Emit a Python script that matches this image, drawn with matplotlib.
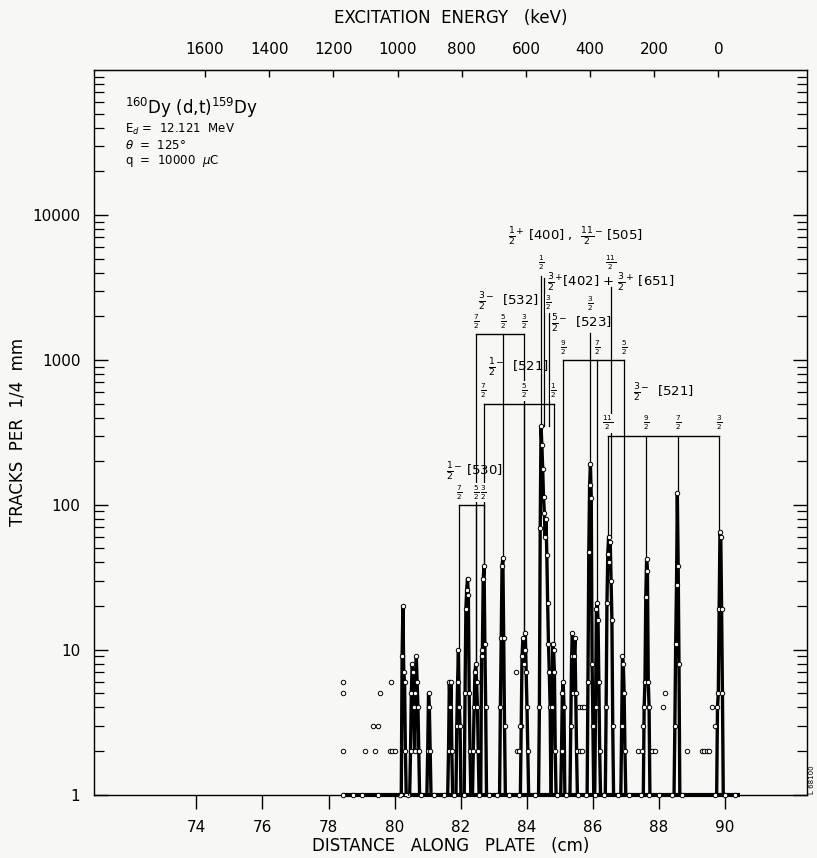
import numpy as np
import matplotlib
matplotlib.use("Agg")
import matplotlib.pyplot as plt
from matplotlib.ticker import FixedLocator, FixedFormatter, LogLocator, NullFormatter

plt.rcParams['font.family'] = ['DejaVu Sans']
plt.rcParams['mathtext.fontset'] = 'dejavusans'

# --- data (cm along plate, tracks per 1/4 mm channel) ---
channel = 0.025  # 1/4 mm
peak_start = [80.20, 80.48, 81.00, 81.63, 81.88, 82.13, 82.38, 82.63, 83.20,
              83.83, 84.38, 84.76, 85.05, 85.33, 85.85, 86.08, 86.40, 86.87,
              87.55, 88.48, 89.77]
peak_counts = [
    [1, 9, 20, 7, 6, 2, 1],
    [2, 5, 8, 7, 4, 2, 5, 9, 6, 4, 2],
    [2, 5, 4, 2],
    [2, 6, 4, 6, 2],
    [3, 6, 10, 4, 3],
    [5, 19, 26, 31, 24, 5, 2],
    [2, 4, 7, 8, 6, 4, 2],
    [9, 10, 31, 38, 11, 4],
    [4, 12, 38, 43, 12, 3],
    [3, 9, 12, 8, 10, 13, 7, 4, 2],
    [4, 69, 350, 258, 178, 113, 88, 60, 80, 45, 21, 11, 7, 4],
    [4, 11, 10, 7, 2],
    [2, 5, 6, 4],
    [3, 9, 13, 5, 9, 12, 5, 2],
    [6, 47, 137, 190, 112, 8, 3],
    [4, 19, 21, 16, 6, 2],
    [4, 21, 46, 60, 40, 55, 30, 16, 3],
    [3, 9, 8, 5, 2],
    [4, 6, 23, 42, 35, 6, 4],
    [3, 11, 28, 120, 38, 8],
    [4, 5, 19, 65, 60, 19, 5],
]
# isolated channels not joined by a line
single_x = [78.45, 78.45, 78.45, 79.10, 79.41, 79.34, 79.51, 79.56, 79.89, 79.86,
            79.93, 80.00, 83.67, 83.70, 83.75, 83.78, 85.59, 85.66, 85.74, 85.61,
            85.68, 87.36, 87.48, 87.51, 87.78, 87.88, 88.13, 88.18, 88.84, 89.29,
            89.37, 89.44, 89.52, 89.60, 89.68]
single_y = [6, 5, 2, 2, 2, 3, 3, 5, 6, 2,
            2, 2, 7, 2, 2, 3, 4, 4, 4, 2,
            2, 2, 2, 3, 2, 2, 4, 5, 2, 2,
            2, 2, 2, 4, 3]
# zero / one-count channels sitting on the baseline
base_x = [78.45, 78.75, 79.00, 79.50, 80.15, 80.40, 80.80, 81.20, 81.50, 81.80,
          82.10, 82.55, 82.85, 83.10, 83.45, 83.75, 84.25, 84.90, 85.20, 85.55,
          85.80, 86.05, 86.35, 86.75, 87.10, 87.45, 87.70, 88.00, 88.40, 88.70,
          89.70, 90.00, 90.30]
plate_range = [78.45, 90.45]

# top energy axis
top_kev = [1600, 1400, 1200, 1000, 800, 600, 400, 200, 0]
kev_per_cm = 102.96
zero_kev_cm = 89.80

y_ticks = [1, 10, 100, 1000, 10000]
y_labels = ['1', '10', '100', '1000', '10000']
x_ticks = [74, 76, 78, 80, 82, 84, 86, 88, 90]

bg = '#f7f7f5'

# --- figure ---
fig = plt.figure(figsize=(8.17, 8.58), dpi=100)
fig.patch.set_facecolor(bg)
ax = fig.add_axes([94.3 / 817, 1 - 794.7 / 858, (806.7 - 94.3) / 817, (794.7 - 70) / 858])
ax.set_facecolor(bg)
ax.set_yscale('log')
ax.set_xlim(70.91, 92.47)
ax.set_ylim(1, 1e5)

# baseline of the plate
ax.plot(plate_range, [1, 1], color='k', lw=3, solid_capstyle='butt', clip_on=False, zorder=3)
ax.plot(base_x, np.ones(len(base_x)), 'o', ms=3.2, mfc='white', mec='k', mew=0.7,
        clip_on=False, zorder=4)

peak_tops = []
for x0, counts in zip(peak_start, peak_counts):
    xs = x0 + channel * np.arange(len(counts))
    xs = np.concatenate([[xs[0] - channel], xs, [xs[-1] + channel]])
    ys = np.concatenate([[1], counts, [1]])
    ax.plot(xs, ys, color='k', lw=2.4, zorder=3, clip_on=False)
    ax.plot(xs[1:-1], ys[1:-1], 'o', ms=3.2, mfc='white', mec='k', mew=0.7, zorder=4)
    peak_tops.append((xs[0], xs[-1], max(counts)))

ax.plot(single_x, single_y, 'o', ms=3.2, mfc='white', mec='k', mew=0.7, zorder=4)


def top_at(x):
    for a, b, t in peak_tops:
        if a <= x <= b:
            return t
    return 1


frac_kw = dict(ha='center', va='center', fontsize=7.5,
               bbox=dict(facecolor=bg, edgecolor='none', pad=0.2))
lab_size = 9.5


def band(bar, members, label, label_x, label_y):
    xs = [m[0] for m in members]
    ax.plot([min(xs), max(xs)], [bar, bar], color='k', lw=1.0, zorder=2)
    for x, num in members:
        ax.plot([x, x], [top_at(x), bar], color='k', lw=0.9, zorder=2)
        ax.text(x, bar * 1.22, r'$\frac{%s}{2}$' % num, zorder=5, **frac_kw)
    ax.text(label_x, label_y, label, ha='left', va='center', fontsize=lab_size)


band(100, [(81.95, '7'), (82.46, '5'), (82.69, '3')],
     r'$\frac{1}{2}^{-}$ [530]', 81.55, 168)
band(1500, [(82.46, '7'), (83.28, '5'), (83.92, '3')],
     r'$\frac{3}{2}^{-}$  [532]', 82.52, 2500)
band(500, [(82.69, '7'), (83.92, '5'), (84.81, '1')],
     r'$\frac{1}{2}^{-}$  [521]', 82.83, 880)
band(1000, [(85.10, '9'), (86.12, '7'), (86.95, '5')],
     r'$\frac{5}{2}^{-}$  [523]', 84.73, 1780)
band(300, [(86.45, '11'), (87.62, '9'), (88.57, '7'), (89.83, '3')],
     r'$\frac{3}{2}^{-}$  [521]', 87.21, 590)

# single levels
for x, top, num, ly in [(84.44, 3800, '1', 4650), (84.66, 2100, '3', 2460),
                        (85.92, 1525, '3', 2450), (86.55, 3170, '11', 4650)]:
    ax.plot([x, x], [top_at(x), top], color='k', lw=0.9, zorder=2)
    ax.text(x, ly, r'$\frac{%s}{2}$' % num, **frac_kw)
ax.plot([84.52, 84.52], [top_at(84.52), 3700], color='k', lw=0.9, zorder=2)

ax.text(83.44, 7000, r'$\frac{1}{2}^{+}$ [400] ,  $\frac{11}{2}^{-}$ [505]',
        ha='left', va='center', fontsize=lab_size)
ax.text(84.62, 3420, r'$\frac{3}{2}^{+}$[402] + $\frac{3}{2}^{+}$ [651]',
        ha='left', va='center', fontsize=lab_size)

# reaction info
info_x = 71.84
ax.text(info_x, 10 ** ((794.7 - 108) / 145), r'$^{160}$Dy (d,t)$^{159}$Dy',
        ha='left', va='center', fontsize=12)
ax.text(info_x, 10 ** ((794.7 - 129) / 145), r'E$_d$ =  12.121  MeV', ha='left', va='center', fontsize=8.5)
ax.text(info_x, 10 ** ((794.7 - 145) / 145), r'$\theta$  =  125°', ha='left', va='center', fontsize=8.5)
ax.text(info_x, 10 ** ((794.7 - 161) / 145), r'q  =  10000  $\mu$C', ha='left', va='center', fontsize=8.5)

# axes styling
ax.xaxis.set_major_locator(FixedLocator(x_ticks))
ax.tick_params(axis='x', which='major', direction='out', length=10, width=1.0,
               pad=8, labelsize=11, top=False)
ax.yaxis.set_major_locator(FixedLocator(y_ticks))
ax.yaxis.set_major_formatter(FixedFormatter(y_labels))
ax.yaxis.set_minor_locator(LogLocator(base=10, subs=np.arange(2, 10)))
ax.yaxis.set_minor_formatter(NullFormatter())
ax.tick_params(axis='y', which='major', direction='in', length=10, width=1.0,
               pad=10, labelsize=11, left=True, right=True)
ax.tick_params(axis='y', which='minor', direction='in', length=7, width=0.9,
               left=True, right=True)
for s in ax.spines.values():
    s.set_linewidth(1.0)

secax = ax.secondary_xaxis('top', functions=(lambda x: (zero_kev_cm - x) * kev_per_cm,
                                             lambda e: zero_kev_cm - e / kev_per_cm))
secax.set_xticks(top_kev)
secax.set_xticklabels([str(k) for k in top_kev])
secax.tick_params(direction='in', length=5, width=1.0, pad=9, labelsize=11)

fig.text(450.5 / 817, 1 - 18 / 858, 'EXCITATION  ENERGY   (keV)', ha='center', va='center', fontsize=12)
fig.text(450.5 / 817, 1 - 846 / 858, 'DISTANCE   ALONG   PLATE   (cm)', ha='center', va='center', fontsize=12)
fig.text(18 / 817, 1 - 432 / 858, 'TRACKS  PER  1/4  mm', ha='center', va='center',
         rotation=90, fontsize=12)
fig.text(812 / 817, 1 - 780 / 858, 'L 68100', ha='center', va='center', rotation=90, fontsize=5)

fig.savefig('out.png', dpi=100, facecolor=fig.get_facecolor())
